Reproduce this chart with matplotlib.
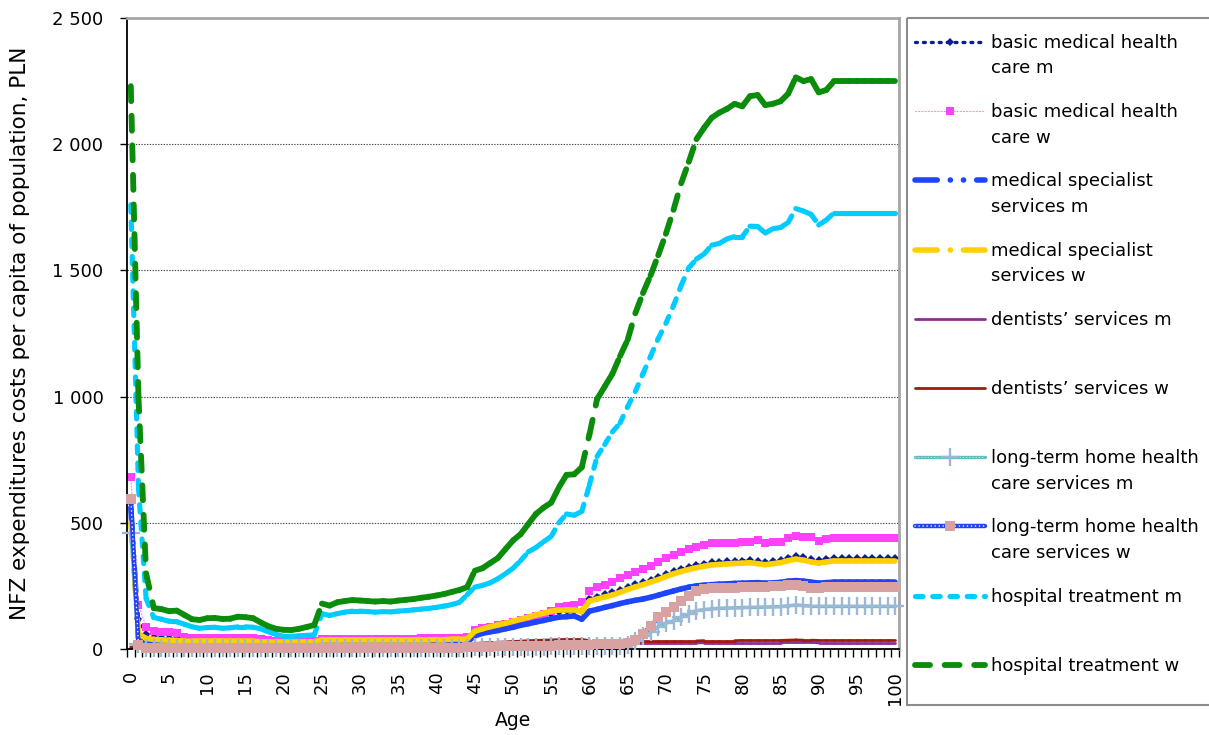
import numpy as np
import matplotlib.pyplot as plt
from matplotlib.collections import LineCollection
from matplotlib.lines import Line2D
from matplotlib.patches import Rectangle

plt.rcParams['font.family'] = ['DejaVu Sans']
plt.rcParams['font.size'] = 13
plt.rcParams['lines.scale_dashes'] = False

age = np.arange(0, 101)

# NFZ costs per capita (PLN) by age, one value per year 0..100
basic_m = [580, 120, 60, 48, 45, 44, 43, 33, 30, 30,
           31, 31, 31, 31, 31, 31, 31, 28, 26, 25,
           25, 25, 25, 25, 26, 33, 33, 33, 33, 33,
           33, 33, 33, 33, 33, 34, 34, 34, 34, 34,
           34, 35, 35, 36, 38, 62, 72, 80, 88, 94,
           100, 108, 115, 124, 132, 140, 148, 152, 152, 150,
           200, 208, 216, 224, 234, 246, 256, 265, 275, 285,
           297, 308, 317, 325, 332, 338, 343, 345, 347, 349,
           350, 352, 348, 344, 348, 352, 362, 368, 364, 356,
           351, 356, 361, 361, 361, 361, 361, 361, 361, 361, 361]
basic_w = [683, 175, 88, 72, 69, 66, 63, 46, 42, 42,
           44, 44, 43, 44, 45, 45, 44, 40, 36, 33,
           30, 29, 29, 30, 31, 38, 38, 39, 40, 40,
           40, 40, 40, 40, 41, 41, 41, 41, 42, 42,
           42, 43, 43, 44, 46, 75, 82, 88, 95, 100,
           108, 115, 122, 131, 140, 150, 165, 172, 174, 185,
           230, 245, 255, 265, 282, 293, 305, 316, 330, 345,
           360, 372, 386, 397, 405, 412, 418, 420, 421, 421,
           425, 425, 432, 421, 422, 425, 438, 448, 445, 443,
           429, 435, 438, 438, 438, 438, 438, 438, 438, 438, 438]
spec_m = [560, 45, 28, 25, 24, 24, 24, 22, 22, 22,
          22, 22, 22, 22, 22, 22, 22, 22, 22, 22,
          21, 21, 21, 21, 21, 24, 24, 24, 24, 24,
          24, 24, 24, 24, 24, 24, 24, 24, 24, 24,
          25, 25, 26, 26, 28, 52, 62, 68, 73, 80,
          86, 94, 100, 107, 113, 120, 126, 128, 131, 118,
          150, 157, 165, 172, 180, 187, 193, 198, 205, 213,
          222, 230, 238, 245, 250, 253, 255, 257, 258, 260,
          261, 262, 263, 261, 262, 264, 269, 271, 269, 265,
          261, 263, 265, 265, 265, 265, 265, 265, 265, 265, 265]
spec_w = [500, 60, 42, 38, 36, 35, 34, 31, 30, 30,
          30, 30, 30, 30, 30, 30, 30, 29, 28, 28,
          28, 28, 28, 28, 29, 35, 35, 35, 36, 36,
          36, 36, 36, 36, 36, 36, 36, 36, 36, 36,
          37, 37, 38, 38, 40, 70, 80, 88, 95, 102,
          110, 118, 126, 135, 142, 150, 154, 155, 155, 148,
          190, 198, 206, 214, 224, 236, 246, 255, 265, 275,
          287, 298, 307, 315, 322, 328, 333, 335, 337, 339,
          340, 342, 338, 334, 338, 342, 350, 356, 352, 345,
          340, 345, 349, 349, 349, 349, 349, 349, 349, 349, 349]
dent_m = [5, 4, 4, 6, 8, 10, 12, 13, 14, 14,
          14, 14, 14, 14, 14, 14, 14, 14, 14, 14,
          15, 15, 15, 15, 15, 15, 15, 15, 15, 15,
          15, 15, 15, 15, 15, 16, 16, 16, 16, 16,
          16, 16, 16, 16, 16, 17, 18, 18, 19, 19,
          20, 20, 21, 21, 22, 22, 23, 24, 24, 25,
          24, 24, 24, 24, 24, 24, 24, 24, 24, 24,
          24, 24, 24, 24, 24, 25, 25, 25, 25, 25,
          25, 25, 25, 25, 25, 25, 26, 26, 26, 26,
          25, 25, 25, 25, 25, 25, 25, 25, 25, 25, 25]
dent_w = [8, 6, 6, 8, 10, 12, 14, 15, 16, 16,
          16, 16, 16, 16, 16, 16, 16, 16, 16, 16,
          17, 17, 17, 18, 18, 19, 19, 19, 19, 19,
          19, 19, 19, 19, 19, 19, 19, 19, 19, 19,
          20, 20, 20, 20, 21, 22, 24, 25, 27, 28,
          30, 31, 33, 34, 35, 36, 37, 38, 38, 38,
          33, 33, 33, 32, 32, 32, 32, 32, 32, 32,
          32, 32, 32, 32, 32, 33, 33, 33, 33, 33,
          34, 34, 34, 34, 34, 34, 35, 36, 35, 35,
          34, 34, 34, 34, 34, 34, 34, 34, 34, 34, 34]
ltc_m = [460, 20, 3, 2, 2, 2, 2, 2, 2, 2,
         2, 2, 2, 2, 2, 2, 2, 2, 2, 2,
         2, 2, 2, 2, 2, 2, 2, 2, 2, 2,
         3, 3, 3, 3, 3, 3, 3, 3, 3, 3,
         3, 3, 3, 3, 4, 6, 6, 7, 7, 8,
         8, 8, 9, 9, 9, 10, 10, 10, 10, 10,
         10, 10, 11, 11, 12, 15, 30, 50, 68, 88,
         102, 112, 125, 140, 152, 156, 159, 161, 162, 163,
         164, 165, 165, 166, 167, 168, 171, 174, 172, 170,
         170, 170, 170, 170, 170, 170, 170, 170, 170, 170, 170]
ltc_w = [595, 15, 5, 5, 5, 5, 5, 5, 5, 5,
         5, 5, 5, 5, 5, 5, 5, 5, 5, 5,
         5, 5, 5, 5, 5, 5, 5, 5, 5, 5,
         5, 5, 5, 5, 5, 5, 5, 5, 5, 5,
         5, 5, 5, 5, 6, 8, 9, 9, 10, 10,
         11, 11, 12, 12, 13, 13, 14, 15, 16, 16,
         17, 18, 18, 19, 20, 25, 36, 60, 90, 125,
         145, 165, 190, 210, 228, 236, 240, 241, 242, 243,
         244, 245, 245, 246, 248, 250, 252, 254, 250, 242,
         243, 245, 245, 245, 245, 245, 245, 245, 245, 245, 245]
hosp_m = [1760, 640, 200, 125, 118, 110, 108, 98, 88, 82,
          85, 86, 82, 84, 88, 88, 86, 80, 68, 58,
          50, 50, 52, 54, 56, 140, 133, 140, 146, 150,
          150, 148, 146, 148, 147, 150, 152, 155, 158, 161,
          165, 170, 176, 185, 215, 245, 252, 262, 278, 298,
          320, 350, 385, 402, 425, 446, 500, 535, 530, 545,
          650, 763, 810, 860, 895, 960, 1020, 1090, 1160, 1230,
          1290, 1360, 1440, 1510, 1545, 1565, 1600, 1607, 1625, 1634,
          1634, 1675, 1674, 1648, 1665, 1670, 1690, 1745, 1735, 1722,
          1680, 1700, 1728, 1728, 1728, 1728, 1728, 1728, 1728, 1728, 1728]
hosp_w = [2230, 1000, 300, 162, 158, 150, 152, 135, 118, 115,
          122, 123, 119, 120, 128, 126, 122, 105, 90, 80,
          76, 75, 80, 87, 95, 180, 172, 185, 190, 194,
          192, 190, 188, 190, 188, 192, 195, 198, 203, 207,
          212, 218, 226, 234, 245, 310, 320, 340, 360, 395,
          430, 455, 495, 535, 560, 580, 640, 690, 692, 720,
          850, 990, 1040, 1090, 1160, 1225, 1330, 1410, 1480, 1560,
          1645, 1740, 1845, 1930, 2020, 2065, 2105, 2125, 2140, 2160,
          2150, 2190, 2195, 2155, 2160, 2170, 2200, 2265, 2250, 2258,
          2205, 2215, 2250, 2250, 2250, 2250, 2250, 2250, 2250, 2250, 2250]

names = ["basic medical health\ncare m", "basic medical health\ncare w",
         "medical specialist\nservices m", "medical specialist\nservices w",
         "dentists’ services m", "dentists’ services w",
         "long-term home health\ncare services m", "long-term home health\ncare services w",
         "hospital treatment m", "hospital treatment w"]
series = [basic_m, basic_w, spec_m, spec_w, dent_m, dent_w, ltc_m, ltc_w, hosp_m, hosp_w]

# line colour, width, dash pattern (pt), white dotted overlay, marker
styles = [
    dict(c='#0B1F8C', lw=2.4, dash=(1.4, 4.3), dots=None, m='D', mc='#0B1F8C', ms=4, mew=0),
    dict(c='#FF80FF', lw=0.8, dash=(0.8, 1.5), dots=None, m='s', mc='#FF40FF', ms=6, mew=0),
    dict(c='#1F45FC', lw=4.0, dash=(16, 9.4, 0.1, 9.4, 0.1, 9.4), dots=None, m=None),
    dict(c='#FFD000', lw=4.0, dash=(16, 9.4, 0.1, 9.4), dots=None, m=None),
    dict(c='#8E2F90', lw=2.0, dash=None, dots=None, m=None),
    dict(c='#A01A10', lw=2.0, dash=None, dots=None, m=None),
    dict(c='#63BDBD', lw=2.4, dash=None, dots=(0.7, (0.1, 2.2)), m='+', mc='#9DB8D6', ms=13, mew=1.7),
    dict(c='#2244F0', lw=3.2, dash=None, dots=(1.1, (0.1, 2.8)), m='s', mc='#D9A2A2', ms=7.5, mew=0),
    dict(c='#00CCFF', lw=3.7, dash=(5.4, 7.0), dots=None, m=None),
    dict(c='#0B8C0B', lw=4.2, dash=(10.8, 10.5), dots=None, m=None),
]

W, H = 1209, 735
fig = plt.figure(figsize=(W / 100, H / 100), dpi=100)
ax = fig.add_axes([127 / W, 1 - 649 / H, 772 / W, 631 / H])


def segs(y):
    p = np.column_stack([age, y])
    return np.stack([p[:-1], p[1:]], axis=1)


def seg_line(y, color, lw, dash, z):
    # one segment per year so the dash pattern starts again at every point
    ls = '-' if dash is None else (0, dash)
    ax.add_collection(LineCollection(segs(y), colors=color, linewidths=lw,
                                     linestyles=[ls], capstyle='round', zorder=z))


for i, (y, s) in enumerate(zip(series, styles)):
    z = 2 + i * 0.1
    seg_line(y, s['c'], s['lw'], s['dash'], z)
    if s['dots']:
        seg_line(y, 'white', s['dots'][0], s['dots'][1], z + 0.01)
    if s['m']:
        ax.plot(age, y, ls='none', marker=s['m'], ms=s['ms'], color=s['mc'],
                mec=s['mc'], mew=s['mew'], zorder=z + 0.02, clip_on=False)

ax.set_xlim(-0.5, 100.5)
ax.set_ylim(0, 2500)

ax.set_xticks(np.arange(0, 101, 5))
ax.set_xticklabels([str(v) for v in range(0, 101, 5)], rotation=90)
ax.set_xticks(np.arange(-0.5, 101, 1), minor=True)
ax.tick_params(axis='x', which='major', length=0, pad=16, labelsize=13)
ax.tick_params(axis='x', which='minor', length=6, width=1, direction='out')

yt = np.arange(0, 2501, 500)
ax.set_yticks(yt)
ax.set_yticklabels([f'{v:,}'.replace(',', ' ') for v in yt])
ax.tick_params(axis='y', length=5, width=1, pad=12, labelsize=13)

ax.yaxis.grid(True, color='#4D4D4D', linestyle=(0, (1, 1)), lw=0.8)
ax.set_axisbelow(True)
for side in ['left', 'bottom']:
    ax.spines[side].set_color('black')
    ax.spines[side].set_linewidth(1.3)
for side in ['top', 'right']:
    ax.spines[side].set_color('#A6A6A6')
    ax.spines[side].set_linewidth(2)

fig.text(20 / W, 1 - 333 / H, 'NFZ expenditures costs per capita of population, PLN',
         rotation=90, ha='center', va='center', fontsize=15.5)
fig.text(513 / W, 1 - 720 / H, 'Age', ha='center', va='center', fontsize=13.5)

# legend box on the right, drawn in pixel coordinates
lax = fig.add_axes([0, 0, 1, 1])
lax.set_xlim(0, W)
lax.set_ylim(H, 0)
lax.axis('off')
lax.add_patch(Rectangle((907, 18), 400, 687, fill=False, ec='#8C8C8C', lw=1.5))

for i, (name, s) in enumerate(zip(names, styles)):
    y0 = 42 + 69.2 * i
    ls = '-' if s['dash'] is None else (0, s['dash'])
    lax.add_line(Line2D([915, 985], [y0, y0], color=s['c'], lw=s['lw'], linestyle=ls,
                        dash_capstyle='round', solid_capstyle='round'))
    if s['dots']:
        lax.add_line(Line2D([915, 985], [y0, y0], color='white', lw=s['dots'][0],
                            linestyle=(0, s['dots'][1]), dash_capstyle='round'))
    if s['m']:
        lax.add_line(Line2D([950], [y0], ls='none', marker=s['m'], ms=s['ms'],
                            color=s['mc'], mec=s['mc'], mew=s['mew']))
    for j, part in enumerate(name.split('\n')):
        lax.text(991, y0 + 6 + 25.4 * j, part, ha='left', va='baseline', fontsize=13)

fig.savefig('out.png', dpi=100)
